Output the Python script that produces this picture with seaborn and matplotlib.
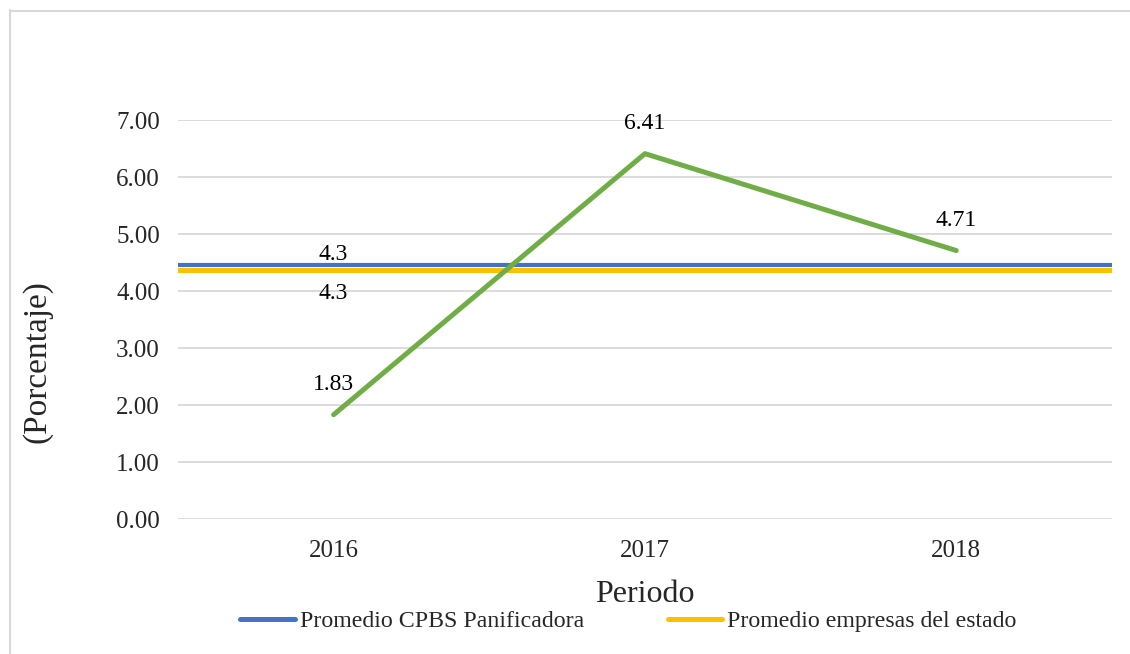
import matplotlib
matplotlib.use("Agg")
import matplotlib.pyplot as plt
import seaborn as sns
import pandas as pd
from matplotlib.lines import Line2D

years = ["2016", "2017", "2018"]
empresa_values = [1.83, 6.41, 4.71]
empresa_labels = ["1.83", "6.41", "4.71"]
promedio_cpbs = 4.45
promedio_estado = 4.37
promedio_cpbs_label = "4.3"
promedio_estado_label = "4.3"
series_names = ["Promedio CPBS Panificadora", "Promedio empresas del estado"]
yticks = [0, 1, 2, 3, 4, 5, 6, 7]

GREEN = "#70AD47"
BLUE = "#4472C4"
YELLOW = "#FFC000"
GRID = "#D9D9D9"

sns.set_theme(style="white")
plt.rcParams["font.family"] = ["Liberation Serif", "DejaVu Serif"]

fig = plt.figure(figsize=(11.3, 6.54), dpi=100)
ax = fig.add_axes([0.1575, 0.2064, 0.8265, 0.6101])

df = pd.DataFrame({"Periodo": years, "Valor": empresa_values})
x = list(range(len(years)))

ax.axhline(promedio_cpbs, color=BLUE, lw=3.0, zorder=3, label=series_names[0])
ax.axhline(promedio_estado, color=YELLOW, lw=3.6, zorder=3, label=series_names[1])
sns.lineplot(data=df, x="Periodo", y="Valor", ax=ax, color=GREEN, lw=3.6,
             legend=False, zorder=4, solid_capstyle="round")

LBL = 17
for xi, v, t in zip(x, empresa_values, empresa_labels):
    ax.annotate(t, (xi, v), xytext=(0, 21.5), textcoords="offset points",
                ha="center", va="center", fontsize=LBL, color="#000000")
ax.annotate(promedio_cpbs_label, (0, promedio_cpbs), xytext=(0, 7.5), textcoords="offset points",
            ha="center", va="center", fontsize=LBL, color="#000000")
ax.annotate(promedio_estado_label, (0, promedio_estado), xytext=(0, -17), textcoords="offset points",
            ha="center", va="center", fontsize=LBL, color="#000000")

ax.set_xlim(-0.5, len(years) - 0.5)
ax.set_ylim(0, 7)
ax.set_yticks(yticks)
ax.set_yticklabels([f"{v:.2f}" for v in yticks])
ax.yaxis.grid(True, color=GRID, lw=1.3)
ax.xaxis.grid(False)
ax.set_axisbelow(True)
for s in ax.spines.values():
    s.set_visible(False)
ax.tick_params(axis="y", length=0, pad=13, labelsize=18)
ax.tick_params(axis="x", length=0, pad=15, labelsize=18)
ax.set_xlabel("Periodo", fontsize=23)
ax.xaxis.label.set_va("center")
ax.xaxis.set_label_coords(0.5, -0.188)
ax.set_ylabel("(Porcentaje)", fontsize=24)
ax.yaxis.label.set_va("center")
ax.yaxis.set_label_coords(-0.151, 0.395)

handles = [Line2D([0], [0], color=BLUE, lw=3.6, solid_capstyle="round"),
           Line2D([0], [0], color=YELLOW, lw=3.6, solid_capstyle="round")]
fig.legend(handles, series_names, loc="center", bbox_to_anchor=(0.556, 0.05), ncol=2,
           frameon=False, fontsize=17.2, handlelength=2.3, handletextpad=0.2,
           columnspacing=3.5, borderpad=0, borderaxespad=0)

# figure border (left and top)
fig.add_artist(Line2D([10 / 1130, 10 / 1130], [0, 1 - 10 / 654], transform=fig.transFigure,
                      color="#D9D9D9", lw=1.5))
fig.add_artist(Line2D([10 / 1130, 1], [1 - 11 / 654, 1 - 11 / 654], transform=fig.transFigure,
                      color="#D9D9D9", lw=1.5))

fig.savefig("out.png", dpi=100, facecolor="white")
